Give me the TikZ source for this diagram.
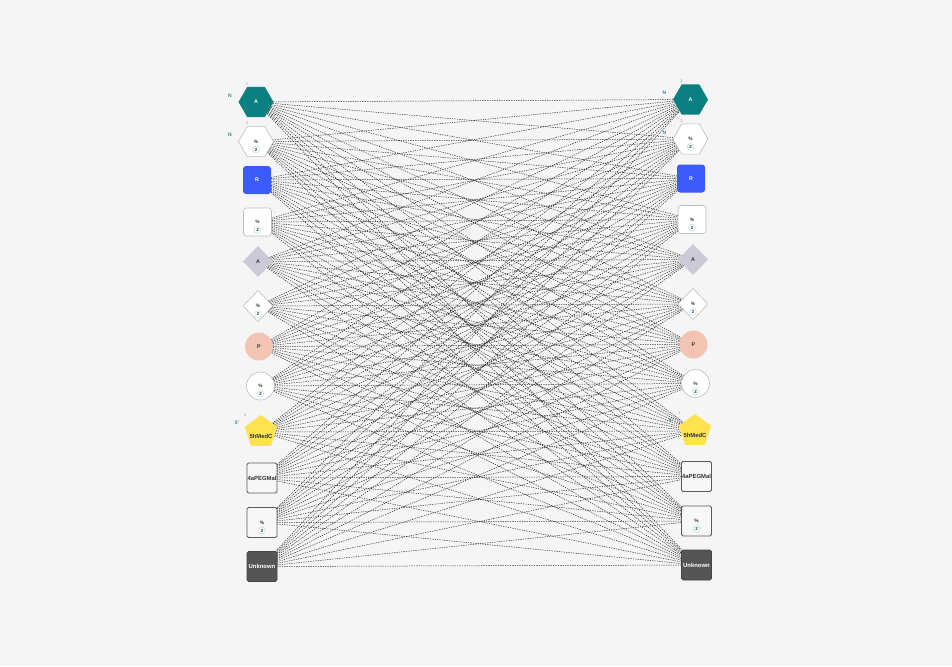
\documentclass[tikz,border=0pt]{standalone}
\usepackage{fontspec}
\setmainfont{Liberation Sans}
\usetikzlibrary{shapes.geometric,calc}
\definecolor{bgc}{HTML}{F5F5F5}
\definecolor{tealc}{HTML}{0A8080}
\definecolor{bluec}{HTML}{3B5BFD}
\definecolor{lavc}{HTML}{CBCAD6}
\definecolor{salmonc}{HTML}{F3C3B3}
\definecolor{yelc}{HTML}{FFE24F}
\definecolor{dgrayc}{HTML}{555555}
\definecolor{edgec}{HTML}{2E2E2E}
\definecolor{bordc}{HTML}{BDBDBD}
\definecolor{sqbord}{HTML}{5A5A5A}
\definecolor{badgec}{HTML}{A8DCE6}
\definecolor{labc}{HTML}{2A8C9C}
\definecolor{txtc}{HTML}{333333}
\pgfdeclarelayer{back}
\pgfdeclarelayer{edges}
\pgfsetlayers{back,edges,main}
\newcommand\pctmark[1]{%
  \node[pcttxt] (#1p) at ($(#1)+(0,0)$) {\%};
  \node[badge] (#1b) at ($(#1)+(0,8)$) {2};
}
\begin{document}
\begin{tikzpicture}[x=1pt,y=-1pt,
  every node/.style={inner sep=0pt, outer sep=0pt, font=\fontsize{5.3}{6}\selectfont\bfseries, text=txtc},
  hexa/.style={regular polygon, regular polygon sides=6, minimum size=35pt},
  rsq/.style={rectangle, rounded corners=3pt, minimum size=28pt},
  dia/.style={diamond, minimum width=30pt, minimum height=31pt},
  circ/.style={circle, minimum size=28pt},
  pent/.style={regular polygon, regular polygon sides=5, minimum size=34pt},
  sqr/.style={rectangle, rounded corners=1.5pt, minimum size=30pt},
  wnode/.style={fill=white, draw=bordc, line width=0.6pt},
  wsq/.style={fill=white!97!black, draw=sqbord, line width=0.9pt},
  pcttxt/.style={font=\fontsize{4.8}{5}\selectfont\bfseries},
  badge/.style={circle, draw=badgec, fill=white, line width=0.5pt, minimum size=6.8pt, font=\fontsize{4.5}{5}\selectfont\bfseries},
  sidelab/.style={text=labc, font=\fontsize{5}{5}\selectfont\bfseries},
  onelab/.style={text=gray!80, font=\fontsize{4.3}{5}\selectfont},
  edge/.style={draw=edgec, line width=0.5pt, dash pattern=on 1.3pt off 1.1pt},
  namelab/.style={font=\fontsize{5.9}{6}\selectfont\bfseries}
]
\begin{pgfonlayer}{back}
\fill[bgc] (0,0) rectangle (952,666);
\end{pgfonlayer}
\useasboundingbox (0,0) rectangle (952,666);

% ---- left column ----
\node[hexa, fill=tealc, text=white] (L1) at (256,102) {A};
\node[hexa, wnode] (L2) at (256,141.5) {};
\node[rsq, fill=bluec, text=white] (L3) at (257,180) {R};
\node[rsq, wnode] (L4) at (257.5,222) {};
\node[dia, fill=lavc] (L5) at (258,261.5) {A};
\node[dia, wnode] (L6) at (258,306) {};
\node[circ, fill=salmonc] (L7) at (259,346.5) {P};
\node[circ, wnode] (L8) at (260.5,386) {};
\node[pent, fill=yelc] (L9) at (261,432) {};
\node[sqr, wsq] (L10) at (262,478) {};
\node[sqr, wsq] (L11) at (262,522.5) {};
\node[sqr, fill=dgrayc, draw=dgrayc!80!black, line width=0.6pt] (L12) at (262,566.5) {};

% ---- right column ----
\node[hexa, fill=tealc, text=white] (R1) at (690.5,99.5) {A};
\node[hexa, wnode] (R2) at (690.5,139) {};
\node[rsq, fill=bluec, text=white] (R3) at (691,178.5) {R};
\node[rsq, wnode] (R4) at (692,219.5) {};
\node[dia, fill=lavc] (R5) at (693,259.5) {A};
\node[dia, wnode] (R6) at (693,304) {};
\node[circ, fill=salmonc] (R7) at (693.5,344.5) {P};
\node[circ, wnode] (R8) at (695.5,383.5) {};
\node[pent, fill=yelc] (R9) at (695,431) {};
\node[sqr, wsq] (R10) at (696.5,476.5) {};
\node[sqr, wsq] (R11) at (696.5,521) {};
\node[sqr, fill=dgrayc, draw=dgrayc!80!black, line width=0.6pt] (R12) at (696.5,565) {};

% ---- texts inside ----
\pctmark{L2}\pctmark{L4}\pctmark{L6}\pctmark{L8}\pctmark{L11}
\pctmark{R2}\pctmark{R4}\pctmark{R6}\pctmark{R8}\pctmark{R11}
\node[namelab] (L9t) at ($(L9)+(0,4)$) {5hMedC};
\node[namelab] (R9t) at ($(R9)+(0,4)$) {5hMedC};
\node[namelab] (L10t) at (L10) {4aPEGMal};
\node[namelab] (R10t) at (R10) {4aPEGMal};
\node[namelab, text=white] (L12t) at (L12) {Unknown};
\node[namelab, text=white] (R12t) at (R12) {Unknown};

% ---- side labels ----
\foreach \n in {L1,L2,R1,R2}{
  \node[sidelab] (\n N) at ($(\n)+(-26,-6.5)$) {N};
  \node[onelab] (\n one) at ($(\n)+(-9,-18)$) {1};
}
\node[sidelab] (L9f) at ($(L9)+(-24,-9)$) {5'};
\node[onelab] (L9one) at ($(L9)+(-16,-17)$) {1};
\node[sidelab] (R9f) at ($(R9)+(-24,-10)$) {5'};
\node[onelab] (R9one) at ($(R9)+(-16,-18)$) {1};

% ---- connectors ----
\begin{pgfonlayer}{edges}
\foreach \i in {1,...,12}{
  \foreach \j in {1,...,12}{
    \draw[edge] (L\i) -- (R\j);
  }
}
\end{pgfonlayer}
\end{tikzpicture}
\end{document}
